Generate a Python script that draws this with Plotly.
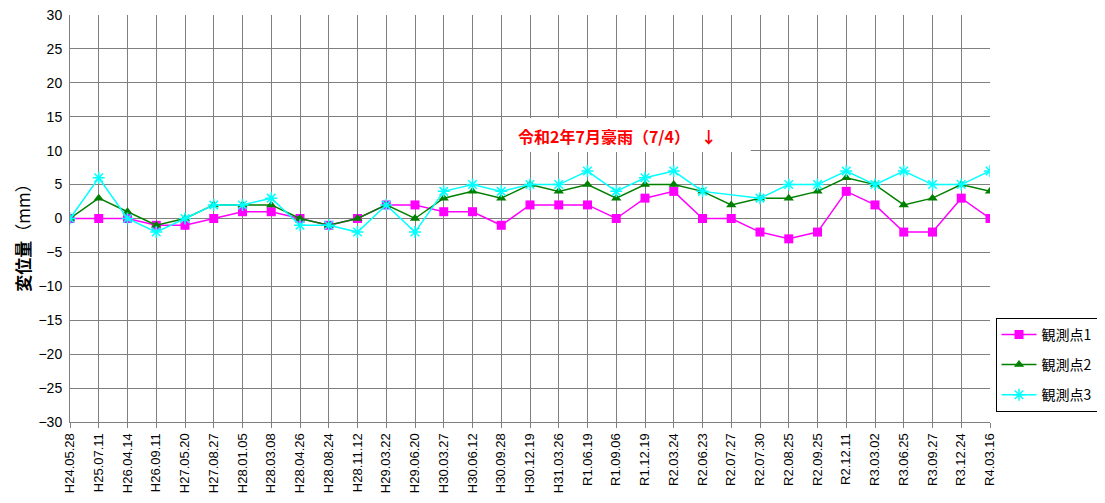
import plotly.graph_objects as go

categories = ["H24.05.28", "H25.07.11", "H26.04.14", "H26.09.11", "H27.05.20", "H27.08.27",
              "H28.01.05", "H28.03.08", "H28.04.26", "H28.08.24", "H28.11.12", "H29.03.22",
              "H29.06.20", "H30.03.27", "H30.06.12", "H30.09.28", "H30.12.19", "H31.03.26",
              "R1.06.19", "R1.09.06", "R1.12.19", "R2.03.24", "R2.06.23", "R2.07.27",
              "R2.07.30", "R2.08.25", "R2.09.25", "R2.12.11", "R3.03.02", "R3.06.25",
              "R3.09.27", "R3.12.24", "R4.03.16"]

point1 = [0, 0, 0, -1, -1, 0, 1, 1, 0, -1, 0, 2, 2, 1, 1, -1, 2, 2, 2, 0, 3, 4, 0, 0,
          -2, -3, -2, 4, 2, -2, -2, 3, 0]
point2 = [0, 3, 1, -1, 0, 2, 2, 2, 0, -1, 0, 2, 0, 3, 4, 3, 5, 4, 5, 3, 5, 5, 4, 2,
          3, 3, 4, 6, 5, 2, 3, 5, 4]
point3 = [0, 6, 0, -2, 0, 2, 2, 3, -1, -1, -2, 2, -2, 4, 5, 4, 5, 5, 7, 4, 6, 7, 4, None,
          3, 5, 5, 7, 5, 7, 5, 5, 7]

series_names = ["観測点1", "観測点2", "観測点3"]
y_ticks = list(range(-30, 31, 5))

FONT = "Liberation Sans, Noto Sans CJK JP, sans-serif"
JFONT = "Noto Sans CJK JP, sans-serif"

fig = go.Figure()
fig.add_trace(go.Scatter(
    x=categories, y=point1, name=series_names[0], mode="lines+markers",
    line=dict(color="#FF00FF", width=1.5),
    marker=dict(symbol="square", size=9, color="#FF00FF"),
    legendgroup="a"))
fig.add_trace(go.Scatter(
    x=categories, y=point2, name=series_names[1], mode="lines+markers",
    line=dict(color="#008000", width=1.5),
    marker=dict(symbol="triangle-up", size=9, color="#008000"),
    legendgroup="b"))
fig.add_trace(go.Scatter(
    x=categories, y=point3, name=series_names[2], mode="lines+markers", connectgaps=True,
    line=dict(color="#00FFFF", width=1.5),
    marker=dict(symbol="asterisk-open", size=10, color="#00FFFF",
                line=dict(color="#00FFFF", width=1.5)),
    legendgroup="c"))

fig.add_shape(type="rect", xref="x domain", yref="y",
              x0=0.4707, x1=0.74, y0=9.8, y1=14.8,
              fillcolor="white", line=dict(width=0), layer="above")

fig.add_annotation(
    xref="x domain", yref="y", x=0.595, y=12.2,
    text="令和2年7月豪雨（7/4）   ↓", showarrow=False,
    font=dict(family=JFONT, size=16, color="#FF0000", weight="bold"))

# y-axis title
fig.add_annotation(
    xref="paper", yref="paper", x=-0.052, y=0.463, xanchor="center", yanchor="middle",
    text="<b>変位量</b>（mm）", textangle=-90, showarrow=False, borderpad=0,
    font=dict(family=JFONT, size=17, color="#000000"))

fig.update_layout(
    width=1097, height=495,
    margin=dict(l=62, r=115, t=7, b=81),
    paper_bgcolor="white", plot_bgcolor="white",
    font=dict(family=FONT, size=12, color="#000000"),
    showlegend=True,
    legend=dict(
        x=1.006, y=0.256, xanchor="left", yanchor="top",
        bordercolor="#000000", borderwidth=1, bgcolor="white",
        font=dict(family=JFONT, size=14),
        traceorder="grouped", tracegroupgap=9,
        itemwidth=35,
    ),
)

fig.update_xaxes(
    type="category", categoryorder="array", categoryarray=categories,
    range=[0, len(categories) - 1], automargin=False,
    tickangle=-90, tickfont=dict(family=FONT, size=13),
    showgrid=True, gridcolor="#7f7f7f", gridwidth=1,
    ticks="outside", ticklen=5, tickcolor="#7f7f7f",
    showline=True, linecolor="#7f7f7f", mirror=False,
    zeroline=False, ticklabeloverflow="allow",
)
fig.update_yaxes(
    range=[-30, 30], tickmode="array", tickvals=y_ticks, automargin=False,
    tickfont=dict(family=FONT, size=14),
    showgrid=True, gridcolor="#7f7f7f", gridwidth=1,
    showline=True, linecolor="#7f7f7f",
    zeroline=False, ticks="", ticklabelstandoff=4,
    ticklabeloverflow="allow",
)

fig.write_html("out.html")
